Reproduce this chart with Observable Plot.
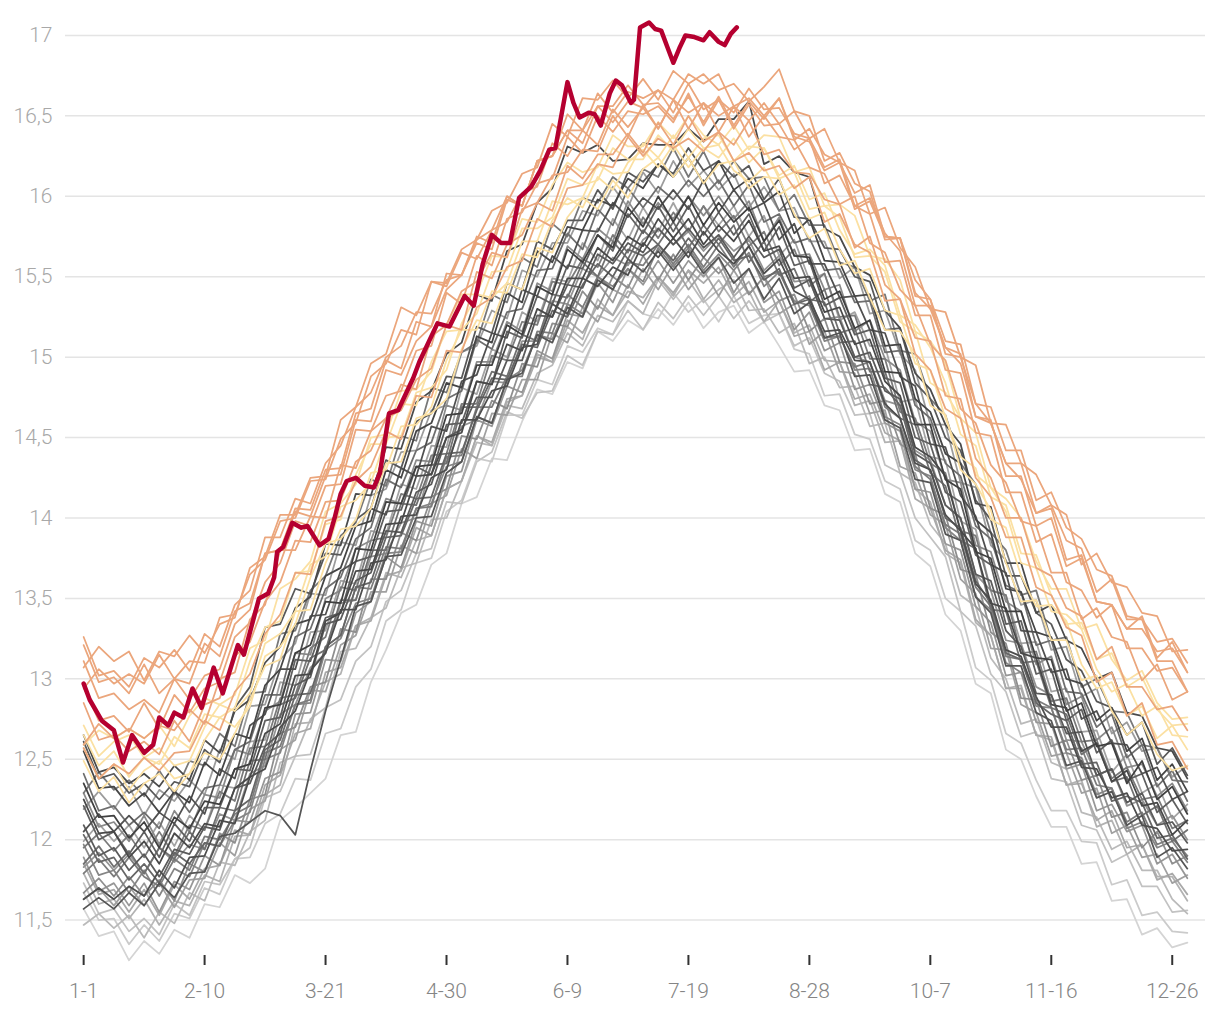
<!DOCTYPE html>
<html>
<head>
<meta charset="utf-8">
<script src="https://cdn.jsdelivr.net/npm/d3@7"></script>
<script src="https://cdn.jsdelivr.net/npm/@observablehq/plot@0.6"></script>
<style>
  html, body { margin: 0; padding: 0; background: #ffffff; }
  #chart svg { display: block; }
</style>
</head>
<body>
<div id="chart"></div>
<script>
// Day of year (0 = 1 Jan) at which the background years are sampled
const days = [0,5,10,15,20,25,30,35,40,45,50,55,60,65,70,75,80,85,90,95,100,105,110,115,120,125,130,135,140,145,150,155,160,165,170,175,180,185,190,195,200,205,210,215,220,225,230,235,240,245,250,255,260,265,270,275,280,285,290,295,300,305,310,315,320,325,330,335,340,345,350,355,360,365];

// Mid-line of the grey (older) years, °C
const climatology = [11.95,11.90,11.87,11.85,11.85,11.85,11.88,11.93,12.00,12.10,12.20,12.35,12.52,12.70,12.88,13.03,13.20,13.37,13.53,
 13.68,13.82,13.95,14.08,14.23,14.38,14.53,14.67,14.79,14.92,15.04,15.16,15.27,15.37,15.45,15.52,15.58,15.63,15.67,
 15.70,15.72,15.72,15.72,15.70,15.68,15.65,15.60,15.55,15.47,15.38,15.28,15.17,15.06,14.95,14.81,14.64,14.46,14.28,
 14.10,13.90,13.69,13.49,13.30,13.12,12.97,12.84,12.70,12.57,12.46,12.36,12.27,12.19,12.11,12.05,12.00];

// Each year's departure from that mid-line, hundredths of °C
const grayColors = ["#d4d4d4","#cbcbcb","#c2c2c2","#bababa","#b2b2b2","#a9a9a9","#a0a0a0","#979797","#8e8e8e","#555555",
 "#858585","#7c7c7c","#666666","#4d4d4d","#939393","#5a5a5a","#707070","#484848","#7a7a7a","#5f5f5f",
 "#a3a3a3","#404040","#8a8a8a","#505050","#6e6e6e","#454545","#9c9c9c","#585858","#787878","#4a4a4a"];

const grayAnomalies = [
 [-38,-50,-44,-60,-48,-56,-44,-54,-40,-52,-42,-62,-70,-58,-68,-74,-82,-72,-86,
  -70,-64,-54,-62,-52,-60,-44,-54,-42,-56,-44,-36,-50,-40,-52,-36,-48,-40,-50,
  -40,-52,-38,-54,-42,-36,-50,-38,-48,-56,-46,-58,-50,-64,-52,-66,-54,-68,-58,
  -70,-60,-72,-58,-74,-62,-70,-76,-62,-72,-60,-74,-64,-78,-66,-72,-64],
 [-28,-40,-36,-50,-38,-48,-34,-42,-30,-44,-32,-46,-42,-54,-50,-66,-54,-68,-58,
  -62,-46,-52,-36,-48,-34,-42,-30,-44,-28,-40,-30,-44,-30,-42,-34,-44,-28,-40,
  -46,-32,-44,-36,-48,-30,-44,-34,-28,-42,-36,-52,-40,-54,-46,-58,-46,-60,-48,
  -60,-48,-62,-50,-64,-52,-60,-66,-52,-58,-48,-64,-52,-66,-56,-62,-58],
 [-22,-36,-30,-42,-34,-44,-28,-40,-26,-38,-32,-40,-26,-40,-36,-50,-38,-50,-42,
  -48,-34,-40,-30,-42,-28,-44,-32,-38,-26,-42,-38,-48,-36,-50,-36,-44,-34,-50,
  -36,-48,-34,-46,-32,-44,-30,-38,-28,-40,-26,-38,-32,-42,-30,-48,-36,-46,-40,
  -34,-48,-36,-46,-38,-48,-30,-46,-34,-48,-40,-50,-36,-48,-40,-50,-44],
 [-48,-36,-42,-32,-46,-30,-40,-26,-38,-24,-36,-30,-40,-22,-36,-28,-38,-20,-34,
  -30,-38,-26,-36,-24,-38,-30,-20,-34,-22,-36,-26,-32,-22,-38,-26,-36,-28,-40,
  -22,-36,-24,-38,-28,-20,-36,-30,-40,-26,-42,-28,-36,-24,-38,-22,-36,-24,-32,
  -26,-38,-24,-36,-30,-40,-22,-36,-26,-40,-32,-42,-28,-38,-30,-42,-46],
 [-16,-30,-24,-34,-22,-38,-26,-34,-22,-36,-18,-32,-24,-36,-16,-30,-22,-34,-20,
  -30,-16,-32,-22,-34,-20,-30,-16,-34,-20,-28,-14,-30,-18,-34,-16,-32,-22,-30,
  -20,-34,-18,-36,-22,-34,-24,-38,-20,-32,-18,-30,-20,-36,-22,-34,-16,-28,-18,
  -32,-18,-34,-22,-36,-16,-32,-22,-36,-20,-38,-24,-36,-22,-34,-28,-38],
 [-10,-24,-18,-30,-16,-32,-16,-30,-18,-26,-14,-32,-18,-30,-22,-34,-16,-30,-20,
  -32,-18,-28,-14,-34,-20,-30,-16,-32,-18,-28,-16,-30,-14,-30,-20,-32,-18,-34,
  -20,-32,-18,-26,-14,-30,-18,-32,-20,-34,-22,-36,-20,-32,-18,-28,-16,-34,-22,
  -30,-16,-32,-22,-36,-18,-32,-20,-36,-22,-34,-18,-32,-22,-36,-26,-34],
 [-32,-20,-28,-14,-26,-12,-30,-18,-24,-12,-30,-16,-28,-14,-26,-10,-28,-16,-26,
  -14,-28,-12,-30,-14,-24,-10,-30,-14,-28,-18,-30,-12,-28,-14,-30,-16,-26,-12,
  -28,-14,-30,-18,-32,-14,-26,-10,-28,-14,-30,-12,-26,-16,-30,-14,-32,-18,-26,
  -14,-28,-16,-30,-12,-28,-18,-32,-16,-28,-14,-32,-18,-30,-20,-32,-22],
 [-6,-22,-14,-26,-12,-30,-14,-24,-10,-26,-8,-24,-14,-28,-10,-24,-8,-26,-12,
  -20,-6,-26,-10,-28,-12,-24,-6,-22,-10,-26,-12,-28,-10,-20,-6,-24,-8,-22,
  -10,-26,-12,-22,-8,-28,-10,-26,-14,-30,-10,-24,-8,-26,-12,-22,-10,-28,-12,
  -26,-10,-24,-14,-28,-8,-24,-12,-26,-10,-28,-14,-22,-10,-26,-14,-24],
 [-28,-14,-22,-8,-20,-10,-26,-8,-20,-6,-22,-10,-24,-4,-18,-8,-22,-6,-24,
  -6,-20,-4,-22,-10,-20,-2,-18,-6,-24,-8,-22,-6,-18,-4,-22,-8,-20,-4,
  -22,-8,-24,-10,-18,-6,-26,-10,-20,-8,-22,-4,-20,-10,-24,-8,-18,-6,-22,
  -8,-22,-4,-20,-8,-24,-10,-26,-8,-20,-6,-22,-10,-24,-6,-20,-10],
 [-38,-26,-30,-18,-26,-12,-24,-14,-20,-8,-16,-24,-34,-55,-85,-60,-40,-25,-8,
  -20,-6,-18,-8,-22,-10,-18,-4,-20,-6,-14,-2,-18,-6,-20,-4,-16,-2,-14,
  -4,-18,-6,-20,-8,-22,-10,-24,-6,-20,-4,-16,-2,-18,-6,-20,-8,-22,-6,
  -20,-4,-18,-8,-22,-4,-18,-10,-24,-8,-20,-6,-18,-4,-22,-10,-18],
 [2,-12,-6,-18,-4,-20,-6,-16,-2,-14,-8,-18,-2,-16,-4,-18,-2,-12,-6,
  -18,-4,-16,-2,-14,-6,-18,-4,-20,-6,-12,-2,-16,-4,-18,-2,-14,-8,-20,
  -2,-16,-4,-18,-6,-14,0,-16,-2,-12,-6,-18,-4,-14,-2,-18,-6,-16,-2,
  -16,-4,-18,-6,-20,-8,-14,-2,-16,-6,-18,-4,-20,-8,-16,-6,-14],
 [-16,-2,-10,4,-8,-14,0,-12,2,-10,-4,-14,2,-12,-4,-16,0,-10,4,
  -12,0,-14,-2,-16,0,-14,2,-10,-4,-16,0,-12,2,-14,-2,-16,-4,-10,
  0,-14,-2,-16,0,-12,4,-10,-2,-14,0,-16,-4,-12,2,-12,-2,-14,-4,
  -14,0,-12,-4,-16,0,-10,-2,-14,0,-12,-4,-16,-2,-14,-4,-10],
 [8,-4,2,-10,0,-12,4,-8,-2,-14,-2,-10,4,-8,2,-12,0,-10,4,
  -8,6,-6,4,-10,2,-12,0,8,-6,4,-10,2,-12,0,6,-8,4,-4,
  0,-12,2,-10,4,-8,-2,-12,0,-14,-2,6,-8,4,-12,0,6,-10,2,
  -10,4,-8,-2,-14,0,-12,-6,4,-10,2,-12,0,4,-10,-2,-12],
 [-32,-20,-24,-14,-20,-4,-18,-4,-10,2,-10,4,-8,0,-8,2,-4,6,-10,
  4,-8,6,-6,2,-8,8,-6,0,-10,2,-8,6,-10,4,-8,-2,-12,4,
  -8,2,-10,6,-4,-10,4,-8,6,-6,-2,-12,0,-8,2,-10,-2,-12,2,
  -8,2,-10,0,-12,2,-8,-14,0,-12,-2,-10,2,-10,-4,-12,-6],
 [-12,2,-6,6,-6,10,-2,4,-6,6,-8,6,-6,8,-4,4,-4,10,-4,
  8,-4,2,-8,10,-4,4,-6,6,-8,6,-6,8,-4,10,-2,4,-6,6,
  10,-2,6,-6,6,-2,8,-6,8,0,10,-4,8,-6,2,-8,6,-4,8,
  -2,10,-4,6,-6,10,-2,6,-8,4,-6,8,-6,6,-2,10,0],
 [14,0,8,-4,6,-8,6,-2,8,-4,12,0,6,-4,8,-2,14,0,8,
  -2,10,-4,8,-2,12,2,8,-4,6,-6,10,-2,8,-2,12,0,8,-2,
  10,-2,8,-4,6,-6,10,2,12,-4,10,-4,6,-6,8,-2,10,-6,6,
  -2,10,-4,12,0,8,-6,6,-4,10,-6,8,-4,10,-2,6,-2],
 [-10,6,-4,8,-6,10,0,12,-6,10,-2,14,-2,14,0,10,-2,12,-4,
  12,-2,14,0,10,-4,16,2,12,-4,10,-6,12,0,14,-2,14,-2,12,
  0,12,-4,10,0,14,-6,12,-4,8,-4,14,-2,12,-4,10,-2,12,0,
  10,-4,12,-6,12,-2,14,-2,8,-4,14,0,12,-4,10,-6,6],
 [30,14,18,4,14,0,16,2,10,-2,12,4,14,2,14,0,16,4,14,
  0,14,2,18,4,12,0,18,4,16,0,14,-2,12,4,16,2,12,2,
  16,2,14,-2,12,4,20,6,14,2,12,0,14,2,16,4,12,-2,10,
  16,2,12,-2,14,4,16,0,12,-2,14,0,16,2,12,-2,12],
 [0,14,6,18,4,20,2,16,6,20,4,22,6,18,2,16,6,20,2,
  18,6,20,4,16,2,18,4,22,6,18,4,20,8,16,4,18,2,20,
  4,18,6,22,8,20,4,18,2,20,6,24,8,20,4,18,2,16,6,
  18,2,20,6,22,4,20,2,18,4,16,2,18,6,16,2,12],
 [26,10,18,6,20,4,22,6,20,10,24,8,22,6,24,8,18,4,20,
  8,22,10,24,4,20,6,18,4,24,8,22,6,20,10,24,8,26,10,
  24,6,22,4,20,8,24,6,26,10,22,4,20,8,22,6,20,4,18,
  6,20,8,22,4,24,6,22,4,24,8,26,10,22,6,20,10],
 [4,20,12,24,10,26,8,22,6,24,12,26,10,28,8,26,10,24,6,
  24,8,26,10,22,6,28,10,26,8,24,6,22,10,26,8,28,10,26,
  8,24,6,22,12,26,10,28,8,26,10,24,6,22,12,26,8,28,10,
  26,8,24,6,22,10,26,8,24,10,22,6,26,10,24,8,22],
 [40,24,28,16,26,10,26,14,24,12,24,12,30,14,28,18,28,10,28,
  12,28,14,24,10,26,12,28,16,28,10,28,12,30,14,24,10,30,14,
  30,12,28,10,26,16,28,12,30,16,24,8,24,12,28,10,26,12,30,
  14,28,10,26,12,30,16,28,10,28,12,24,8,30,14,28,16],
 [34,18,24,14,30,12,30,12,28,16,36,18,28,16,28,12,30,18,28,
  18,30,14,28,12,32,14,30,18,30,12,30,14,32,16,28,14,34,16,
  26,14,28,16,30,18,32,12,32,16,26,14,28,10,28,18,28,14,26,
  14,32,14,30,18,30,12,30,14,32,16,34,18,28,16,30,18],
 [10,26,18,30,20,32,22,34,16,34,18,36,26,36,18,36,20,30,20,
  38,20,36,18,34,16,32,22,36,20,38,22,36,18,34,26,38,24,32,
  22,32,20,38,20,36,26,36,18,36,20,30,20,32,22,34,24,36,18,
  34,24,32,22,36,18,32,20,36,18,34,24,32,22,34,20,30],
 [46,28,34,24,32,22,42,24,32,24,36,26,38,20,38,28,36,26,34,
  26,42,24,34,24,36,26,44,26,36,26,38,28,40,22,40,24,42,26,
  36,26,38,28,40,26,42,24,34,24,36,26,38,28,40,22,40,24,34,
  24,36,26,38,28,42,24,40,22,34,24,42,24,40,22,38,24],
 [60,42,46,36,44,32,42,30,48,30,46,28,44,36,46,34,44,32,42,
  30,48,30,46,36,46,28,46,30,48,30,50,32,44,34,46,36,48,38,
  50,40,52,36,52,36,46,36,48,30,48,32,42,32,44,26,44,28,38,
  30,44,30,42,26,42,32,42,30,40,28,46,28,44,26,42,30],
 [24,40,32,48,30,46,36,44,28,46,30,48,32,42,34,50,32,48,30,
  46,36,46,34,44,32,50,40,50,32,50,34,44,34,46,36,48,30,48,
  32,50,34,44,34,46,28,46,36,46,34,44,32,50,32,48,38,46,30,
  48,32,50,34,44,34,52,34,50,32,48,30,46,36,46,34,46],
 [66,48,54,44,50,40,48,40,56,38,62,60,80,64,68,50,58,40,46,
  38,54,36,52,42,50,34,52,36,54,38,56,40,48,40,52,34,52,42,
  50,42,58,44,52,44,54,38,56,40,48,40,50,44,52,36,54,38,46,
  40,52,42,50,34,52,44,50,42,48,40,46,38,54,36,52,40],
 [34,52,44,52,42,58,40,56,46,56,38,56,40,58,42,52,44,52,44,
  56,38,56,40,58,40,50,42,60,42,58,40,56,38,54,44,54,42,50,
  42,58,40,56,38,54,46,52,36,54,44,54,42,50,40,58,40,56,46,
  54,44,52,42,50,40,58,40,56,38,54,44,52,40,46,32,36],
 [70,52,58,50,56,48,58,44,62,44,60,52,58,50,56,48,64,46,62,
  46,62,48,64,56,64,56,72,56,74,66,80,78,94,82,80,64,60,66,
  62,60,70,62,78,80,94,60,70,68,74,52,58,50,56,48,54,44,52,
  48,56,40,58,42,60,44,62,54,62,54,68,52,58,46,50,38]
];

const yellowColor = "#fbe0a2";
const yellowAnomalies = [
 [54,40,52,38,50,56,42,48,54,40,46,52,56,42,54,40,52,56,42,
  38,52,40,54,42,36,52,56,42,54,38,52,38,50,54,40,52,36,50,
  54,40,52,36,50,54,40,52,56,42,36,52,40,54,42,36,52,56,42,
  54,40,52,56,42,36,52,40,54,42,56,44,38,54,42,38,46],
 [62,48,60,46,58,64,50,48,62,66,50,48,62,50,46,60,64,50,46,
  60,48,62,50,46,60,64,50,62,48,60,46,58,62,48,60,46,58,62,
  48,60,46,58,62,48,44,58,46,60,48,62,50,46,60,48,62,50,64,
  52,48,62,50,64,52,48,62,66,52,48,62,50,64,52,66,56],
 [70,56,68,54,66,72,58,56,70,74,60,56,70,58,54,68,56,70,58,
  54,68,56,70,58,54,68,72,58,54,68,56,70,58,54,68,56,52,66,
  54,66,52,64,68,54,66,70,56,68,54,66,70,56,68,72,58,70,56,
  68,72,58,70,74,60,72,58,70,74,60,56,70,58,72,60,64],
 [76,62,74,80,66,62,76,64,78,66,62,76,80,66,78,64,76,62,74,
  78,64,76,62,74,78,64,60,74,62,76,64,60,74,62,58,72,60,56,
  68,56,70,58,54,68,56,70,58,72,60,74,62,58,72,76,62,74,78,
  74,62,76,64,78,66,80,68,64,78,66,80,68,82,70,66,72],
 [64,78,76,84,78,86,70,84,88,74,70,84,72,86,74,70,84,72,68,
  82,70,84,72,68,82,86,72,84,70,82,68,80,84,70,66,80,68,64,
  76,64,78,66,62,76,64,78,82,68,80,66,78,82,68,80,84,70,82,
  86,72,84,70,82,88,76,72,86,74,88,76,72,86,74,70,76]
];

const orangeColor = "#eba67c";
const orangeAnomalies = [
 [62,48,60,56,66,58,66,62,74,58,72,68,76,70,78,62,78,64,70,
  64,72,54,68,52,66,50,64,58,64,56,70,54,68,62,68,60,74,58,
  66,58,64,56,70,54,62,56,64,58,74,56,72,64,70,54,72,56,64,
  58,72,56,64,58,76,60,68,62,70,52,68,50,66,48,56,44],
 [90,72,78,70,76,68,86,68,84,78,94,88,96,90,98,82,90,74,82,
  74,80,72,78,70,82,64,86,70,78,72,80,64,82,66,74,68,76,60,
  76,60,78,62,70,64,82,66,74,68,76,70,78,62,80,64,72,66,82,
  66,84,68,76,70,88,72,80,74,82,66,84,68,76,70,78,68],
 [64,82,76,84,78,86,80,88,72,90,84,102,94,110,92,98,80,96,78,
  86,80,88,72,90,82,88,80,86,70,88,80,86,78,84,76,92,74,90,
  72,88,80,86,70,88,72,90,82,88,80,86,78,94,76,84,78,86,80,
  88,78,90,84,92,86,98,82,96,80,98,90,96,80,98,82,92],
 [100,84,90,82,100,84,102,86,94,88,106,100,108,102,110,92,100,84,102,
  86,94,84,96,84,102,80,96,78,94,86,92,84,100,82,98,82,90,84,
  86,74,92,72,90,74,92,84,90,82,98,80,96,88,94,78,96,80,98,
  82,100,84,102,86,104,88,106,90,98,92,110,92,100,94,102,92],
 [116,98,104,96,102,94,112,94,102,96,114,108,126,110,116,98,106,90,108,
  92,110,94,102,96,114,98,104,88,106,90,106,98,104,96,112,94,102,94,
  96,80,98,82,90,84,102,94,100,92,98,90,106,88,104,96,102,86,104,
  96,106,94,112,96,114,98,116,100,118,102,110,104,112,106,114,104],
 [126,108,114,106,124,106,112,104,122,104,122,112,126,110,118,102,110,94,112,
  100,116,98,114,96,104,98,106,100,108,90,106,98,114,96,104,98,106,90,
  88,76,90,74,92,76,94,88,106,90,96,88,104,86,102,94,110,92,108,
  92,110,102,110,104,112,106,122,104,120,102,110,104,120,102,118,104],
 [99,116,110,118,112,130,112,118,110,128,120,130,122,128,112,120,104,112,106,
  120,114,122,106,124,108,114,106,112,104,110,102,118,100,116,108,114,98,106,
  90,106,98,104,96,102,94,108,124,106,112,94,110,102,108,92,110,94,102,
  96,112,94,110,104,122,106,124,116,124,108,126,110,118,112,120,110],
 [131,112,118,110,128,122,130,112,128,110,126,120,136,118,124,106,114,108,116,
  110,118,112,120,104,110,98,108,92,108,90,106,98,104,88,104,88,96,88,
  96,88,104,98,106,88,96,90,106,88,104,98,104,96,112,94,110,102,108,
  100,118,102,120,112,130,114,132,124,130,122,128,112,118,100,106,92],
 [112,130,124,132,114,132,126,134,116,124,118,134,124,132,114,122,106,124,116,
  128,120,136,118,124,106,112,94,100,92,98,90,106,88,96,80,96,80,88,
  72,88,70,86,80,88,82,98,90,106,98,114,104,110,94,112,104,110,102,
  118,110,126,110,128,122,130,124,132,114,132,124,130,122,128,112,118]
];

// Current year (day of year, °C)
const redDays = [0,2,6,10,13,16,20,23,25,28,30,33,36,39,43,46,51,53,56,58,61,63,64,66,69,72,74,78,81,83,85,87,90,93,96,98,101,104,109,111,117,121,126,129,132,135,138,141,144,148,151,154,156,160,162,164,167,169,171,174,176,178,181,182,184,187,189,191,193,195,197,199,202,205,207,210,212,214,216];
const redTemps = [12.97,12.87,12.74,12.68,12.48,12.65,12.54,12.59,12.76,12.71,12.79,12.76,12.94,12.82,13.07,12.91,13.21,13.15,13.36,13.50,13.53,13.63,13.79,13.82,13.97,13.94,13.95,13.83,13.87,14.00,14.15,14.23,14.25,14.20,14.19,14.28,14.65,14.67,14.87,14.97,15.21,15.19,15.38,15.32,15.58,15.76,15.71,15.71,15.99,16.06,16.16,16.29,16.30,16.71,16.58,16.49,16.52,16.51,16.44,16.64,16.72,16.69,16.58,16.60,17.05,17.08,17.04,17.03,16.93,16.83,16.92,17.00,16.99,16.97,17.02,16.96,16.94,17.01,17.05];
const redColor = "#b50030";

const xTickDays = [0,40,80,120,160,200,240,280,320,360];
const xTickLabels = ["1-1","2-10","3-21","4-30","6-9","7-19","8-28","10-7","11-16","12-26"];
const yTicks = [11.5,12,12.5,13,13.5,14,14.5,15,15.5,16,16.5,17];

// ---- build tables ----
const toRows = (anom) => days.map((d, i) => ({day: d, temp: climatology[i] + anom[i] / 100}))
  .filter(r => Number.isFinite(r.temp));
const redRows = redDays.map((d, i) => ({day: d, temp: redTemps[i]}));

const grayOrder = grayColors.map((c, i) => i)
  .sort((a, b) => d3.hsl(grayColors[b]).l - d3.hsl(grayColors[a]).l);

const lineOpts = {x: "day", y: "temp", strokeWidth: 1.75, strokeLinejoin: "round"};

const chart = Plot.plot({
  width: 1220,
  height: 1010,
  marginLeft: 65,
  marginRight: 15,
  marginTop: 15,
  marginBottom: 55,
  style: {fontFamily: "Roboto, 'Open Sans', sans-serif", fontWeight: 300, background: "#ffffff"},
  x: {domain: [-6, 371], label: null},
  y: {domain: [11.28, 17.124], label: null},
  marks: [
    Plot.gridY(yTicks, {stroke: "#e4e4e4", strokeOpacity: 1, strokeWidth: 1.5}),
    ...grayOrder.map(i => Plot.line(toRows(grayAnomalies[i]), {...lineOpts, stroke: grayColors[i]})),
    ...yellowAnomalies.map(a => Plot.line(toRows(a), {...lineOpts, stroke: yellowColor})),
    ...orangeAnomalies.map(a => Plot.line(toRows(a), {...lineOpts, stroke: orangeColor})),
    Plot.line(redRows, {x: "day", y: "temp", stroke: redColor, strokeWidth: 4.5, strokeLinejoin: "round", strokeLinecap: "round"}),
    Plot.axisY(yTicks, {label: null, tickSize: 0, tickPadding: 13, tickFormat: d => String(d).replace(".", ","), fill: "#a8a8a8", fontSize: 21}),
    Plot.axisX(xTickDays, {label: null, tickSize: 10, tickPadding: 18, tickFormat: d => xTickLabels[xTickDays.indexOf(d)], stroke: "#333333", strokeWidth: 2, fill: "#858585", fontSize: 21})
  ]
});

document.getElementById("chart").appendChild(chart);
</script>
</body>
</html>
